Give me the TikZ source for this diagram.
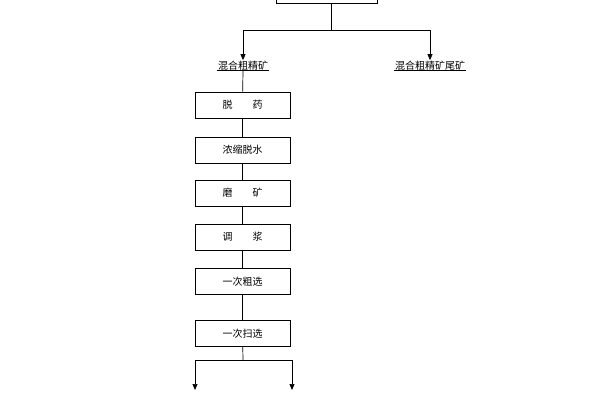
\documentclass[tikz,border=0pt]{standalone}
\usepackage{fontspec}
\newfontfamily\cjk{Noto Sans CJK SC}
\usetikzlibrary{arrows.meta}
\begin{document}
\begin{tikzpicture}[x=1pt,y=-1pt,font=\cjk\fontsize{10}{12}\selectfont,
 box/.style={draw,line width=0.7pt,minimum width=95pt,minimum height=26pt,inner sep=0pt},
 lab/.style={inner sep=1pt},
 ar/.style={-{Triangle[length=6pt,width=5pt]},line width=0.7pt},
 ln/.style={line width=0.7pt}]
\useasboundingbox (0,0) rectangle (600,400);
\node[box,minimum width=101pt] (top) at (326.5,-10) {};
\coordinate (j1) at (331,30);
\node[lab] (l1) at (243,66) {混合粗精矿};
\node[lab] (l2) at (430,66) {混合粗精矿尾矿};
\draw[ln] ([yshift=1pt]l1.south west)--([yshift=1pt]l1.south east);
\draw[ln] ([yshift=1pt]l2.south west)--([yshift=1pt]l2.south east);
\draw[ln] (top.south -| j1)--(j1);
\draw[ar] (j1)-|(l1.north);
\draw[ar] (j1)-|(l2.north);
\node[box] (b1) at (242.5,105) {脱\hspace{2em}药};
\node[box] (b2) at (242.5,150) {浓缩脱水};
\node[box] (b3) at (242.5,193) {磨\hspace{2em}矿};
\node[box] (b4) at (242.5,237) {调\hspace{2em}浆};
\node[box] (b5) at (242.5,281.5) {一次粗选};
\node[box] (b6) at (242.5,333.5) {一次扫选};
\draw[ln] ([yshift=2pt]l1.south)--(b1);
\draw[ln] (b1)--(b2);
\draw[ln] (b2)--(b3);
\draw[ln] (b3)--(b4);
\draw[ln] (b4)--(b5);
\draw[ln] (b5)--(b6);
\coordinate (j2) at (243,360);
\coordinate (e1) at (195,390);
\coordinate (e2) at (292,390);
\draw[ln] (b6)--(j2);
\draw[ar] (j2)-|(e1);
\draw[ar] (j2)-|(e2);
\end{tikzpicture}
\end{document}
